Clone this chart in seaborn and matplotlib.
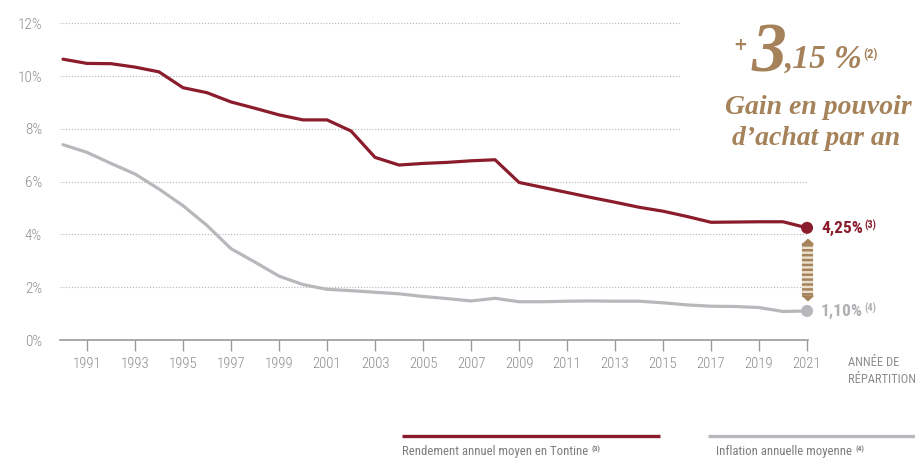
import matplotlib
matplotlib.use("Agg")
import matplotlib.pyplot as plt
import matplotlib.font_manager as fm
from matplotlib.lines import Line2D
import numpy as np
import pandas as pd
import seaborn as sns

# ---------------- data ----------------
years = [1990, 1991, 1992, 1993, 1994, 1995, 1996, 1997, 1998, 1999,
         2000, 2001, 2002, 2003, 2004, 2005, 2006, 2007, 2008, 2009,
         2010, 2011, 2012, 2013, 2014, 2015, 2016, 2017, 2018, 2019,
         2020, 2021]
tontine = [10.64, 10.48, 10.47, 10.34, 10.16, 9.56, 9.37, 9.02, 8.78, 8.53,
           8.34, 8.34, 7.92, 6.92, 6.63, 6.69, 6.73, 6.79, 6.83, 5.97,
           5.78, 5.59, 5.40, 5.22, 5.03, 4.88, 4.68, 4.46, 4.47, 4.48,
           4.48, 4.25]
inflation = [7.40, 7.11, 6.69, 6.29, 5.72, 5.09, 4.34, 3.46, 2.95, 2.42,
             2.10, 1.92, 1.87, 1.81, 1.75, 1.65, 1.57, 1.48, 1.58, 1.45,
             1.45, 1.47, 1.48, 1.47, 1.47, 1.41, 1.33, 1.28, 1.27, 1.23,
             1.08, 1.10]
series_names = ["Rendement annuel moyen en Tontine", "Inflation annuelle moyenne"]
series_sups = ["(3)", "(4)"]
end_labels = ["4,25%", "1,10%"]
tick_years = [1991, 1993, 1995, 1997, 1999, 2001, 2003, 2005, 2007, 2009,
              2011, 2013, 2015, 2017, 2019, 2021]
ytick_values = [0, 2, 4, 6, 8, 10, 12]
ytick_labels = ["0%", "2%", "4%", "6%", "8%", "10%", "12%"]
axis_title = "ANNÉE DE\nRÉPARTITION"
headline_plus = "+"
headline_big = "3"
headline_dec = ",15"
headline_pct = "%"
headline_sup = "(2)"
subtitle = ["Gain en pouvoir", "d\u2019achat par an"]

# ---------------- style ----------------
RED = "#8b1c2c"
GRAY = "#b8b8bc"
GOLD = "#a5825a"
BEIGE = "#eadfcd"
TXT = "#8c8c8c"
GRID = "#b4b4b4"

sns.set_theme(style="white")
plt.rcParams["font.family"] = ["DejaVu Sans"]

_fonts = fm.fontManager.ttflist
def _has(name, stretch=None):
    return any(f.name == name and (stretch is None or str(f.stretch) == stretch) for f in _fonts)

if _has("Roboto Condensed"):
    COND = dict(family="Roboto Condensed")
elif _has("Liberation Sans Narrow"):
    COND = dict(family="Liberation Sans Narrow")
elif _has("DejaVu Sans", "condensed"):
    COND = dict(family="DejaVu Sans", fontstretch="condensed")
else:
    COND = dict(family="Roboto")
SERIF = "Liberation Serif" if _has("Liberation Serif") else "DejaVu Serif"

W, H = 915, 462
fig = plt.figure(figsize=(W / 100, H / 100), dpi=100)
fig.patch.set_facecolor("white")

def fx(px):
    return px / W

def fy(py):
    return 1 - py / H

X_LEFT, X_RIGHT = 1989.875, 2021.04
ax = fig.add_axes([fx(60), (H - 340) / H, fx(808) - fx(60), (340 - 23.3) / H])
ax.set_facecolor("white")

df = pd.DataFrame({
    "year": years * 2,
    "value": tontine + inflation,
    "series": [series_names[0]] * len(years) + [series_names[1]] * len(years),
})
palette = {series_names[0]: RED, series_names[1]: GRAY}

# dotted grid lines
short_end = 2015.7
for v in ytick_values[1:]:
    end = short_end if v >= 8 else 2021
    ax.hlines(v, X_LEFT, end, colors=GRID, linestyles=(0, (1, 1.6)), linewidth=0.8, zorder=1)

sns.lineplot(data=df, x="year", y="value", hue="series", palette=palette,
             linewidth=2.3, legend=False, ax=ax, zorder=3, clip_on=False)

# striped double arrow between the end points
ax.plot([2021, 2021], [1.70, 3.67], color=BEIGE, lw=8, solid_capstyle="butt",
        zorder=4, clip_on=False)
ax.plot([2021, 2021], [1.70, 3.67], color=GOLD, lw=8, linestyle=(0, (0.22, 0.22)),
        dash_capstyle="butt", zorder=4, clip_on=False)
tri_up = [(-1, -0.45), (1, -0.45), (0, 0.45)]
tri_dn = [(-1, 0.45), (1, 0.45), (0, -0.45)]
ax.plot([2021], [3.77], marker=tri_up, ms=8, color=GOLD, ls="none", zorder=4, clip_on=False)
ax.plot([2021], [1.60], marker=tri_dn, ms=8, color=GOLD, ls="none", zorder=4, clip_on=False)

last = pd.DataFrame({"year": [years[-1]] * 2, "value": [tontine[-1], inflation[-1]],
                     "series": series_names})
sns.scatterplot(data=last, x="year", y="value", hue="series", palette=palette, s=75,
                edgecolor="none", legend=False, ax=ax, zorder=5, clip_on=False)

ax.set_xlim(X_LEFT, X_RIGHT)
ax.set_ylim(0, 12)
ax.set_xlabel("")
ax.set_ylabel("")
ax.set_xticks(tick_years, labels=[str(y) for y in tick_years])
ax.set_yticks(ytick_values, labels=ytick_labels)
ax.tick_params(axis="x", length=8, width=1, color="#9a9a9a", pad=4, labelsize=10.5,
               labelcolor=TXT, bottom=True, direction="out")
ax.tick_params(axis="y", length=0, pad=13, labelsize=11, labelcolor=TXT)
for lab in ax.get_xticklabels() + ax.get_yticklabels():
    lab.set(**COND)
    lab.set_fontweight("light")
for s in ["top", "right", "left"]:
    ax.spines[s].set_visible(False)
ax.spines["bottom"].set_color("#9a9a9a")
ax.spines["bottom"].set_linewidth(1.2)
ax.grid(False)

# axis title
fig.text(fx(848), fy(371), axis_title, ha="left", va="center", fontsize=9,
         color=TXT, linespacing=1.4, **COND)

# end labels with superscripts
for val, lab, sup, col in [(tontine[-1], end_labels[0], series_sups[0], RED),
                           (inflation[-1], end_labels[1], series_sups[1], "#b0b0b4")]:
    t = ax.annotate(lab, xy=(2021, val), xytext=(14, -1), textcoords="offset pixels",
                    ha="left", va="center", fontsize=12.5, fontweight="bold", color=col,
                    annotation_clip=False, **COND)
    ax.annotate(sup, xy=(1, 1), xycoords=t, xytext=(1, 2), textcoords="offset pixels",
                ha="left", va="top", fontsize=7.5, fontweight="bold", color=col,
                annotation_clip=False, **COND)

# headline
fig.text(fx(733), fy(45), headline_plus, ha="left", va="center", fontsize=12,
         color=GOLD, family="DejaVu Sans", fontweight="bold")
fig.text(fx(752), fy(71), headline_big, ha="left", va="baseline", fontsize=50,
         color=GOLD, family=SERIF, style="italic", fontweight="bold")
t_dec = fig.text(fx(785), fy(68), headline_dec, ha="left", va="baseline", fontsize=24,
                 color=GOLD, family=SERIF, style="italic", fontweight="bold")
t_pct = ax.annotate(headline_pct, xy=(1, 0), xycoords=t_dec, xytext=(7, 0),
                    textcoords="offset pixels", ha="left", va="bottom", fontsize=24,
                    color=GOLD, family=SERIF, style="italic", fontweight="bold",
                    annotation_clip=False)
ax.annotate(headline_sup, xy=(1, 1), xycoords=t_pct, xytext=(2, -4),
            textcoords="offset pixels", ha="left", va="top", fontsize=9,
            color=GOLD, fontweight="bold", annotation_clip=False, **COND)
fig.text(fx(818), fy(114), subtitle[0], ha="center", va="baseline", fontsize=20,
         color=GOLD, family=SERIF, style="italic", fontweight="bold")
fig.text(fx(816), fy(145), subtitle[1], ha="center", va="baseline", fontsize=20,
         color=GOLD, family=SERIF, style="italic", fontweight="bold")

# custom legend at bottom
fig.add_artist(Line2D([fx(402), fx(660)], [fy(436), fy(436)], transform=fig.transFigure,
                      color=RED, lw=2.4, solid_capstyle="butt"))
fig.add_artist(Line2D([fx(708), fx(915)], [fy(436), fy(436)], transform=fig.transFigure,
                      color=GRAY, lw=2.4, solid_capstyle="butt"))
for x0, name, sup in [(402, series_names[0], series_sups[0]),
                      (716, series_names[1], series_sups[1])]:
    t = fig.text(fx(x0), fy(452), name, ha="left", va="center", fontsize=9.2,
                 color="#7d7d7d", **COND)
    ax.annotate(sup, xy=(1, 1), xycoords=t, xytext=(3, 0), textcoords="offset pixels",
                ha="left", va="top", fontsize=5.5, fontweight="bold", color="#7d7d7d",
                annotation_clip=False, **COND)

fig.savefig("out.png", dpi=100, facecolor="white")
